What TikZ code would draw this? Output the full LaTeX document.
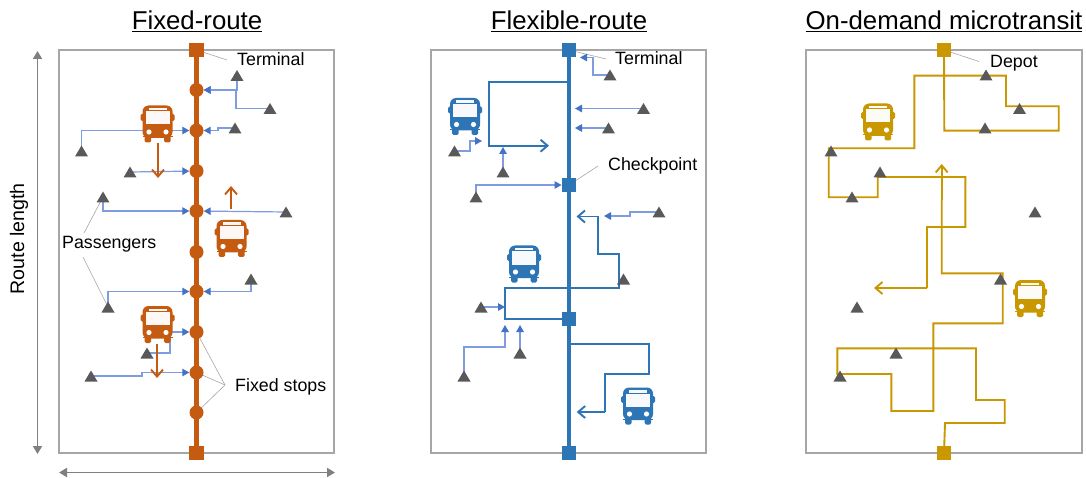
\documentclass[tikz,border=0pt]{standalone}
\usepackage{fontspec}
\setmainfont{Liberation Sans}
\usetikzlibrary{arrows.meta,backgrounds}
\definecolor{corange}{HTML}{C55A11}
\definecolor{cblue}{HTML}{2E75B6}
\definecolor{cgold}{HTML}{C99700}
\definecolor{cpax}{HTML}{7D9DE0}
\definecolor{ctip}{HTML}{4472C4}
\definecolor{ctri}{HTML}{595959}
\definecolor{cframe}{HTML}{A6A6A6}
\definecolor{cgrayarrow}{HTML}{808080}
\tikzset{
  panel/.style={draw=cframe,line width=1.4pt,fill=white},
  tri/.style={rectangle,minimum width=13pt,minimum height=11pt,inner sep=0pt,
    path picture={\fill[ctri] (path picture bounding box.south west) -- (path picture bounding box.south east) -- (path picture bounding box.north) -- cycle;}},
  stopdot/.style={circle,fill=corange,minimum size=14pt,inner sep=0pt},
  sq/.style={rectangle,fill=#1,minimum size=14.5pt,inner sep=0pt},
  paxline/.style={draw=cpax,line width=1.2pt,-{Stealth[length=7pt,width=7.5pt,inset=0pt,color=ctip]}},
  mainroute/.style={draw=#1,line width=4.4pt},
  subroute/.style={draw=#1,line width=1.9pt},
  openarrow/.style={draw=#1,line width=1.9pt,-{Straight Barb[length=7pt,width=12pt]}},
  leader/.style={draw=gray!70,line width=0.6pt},
  dimarrow/.style={draw=cgrayarrow,line width=1.8pt,{Stealth[length=8pt,width=9pt,inset=0pt]}-{Stealth[length=8pt,width=9pt,inset=0pt]}},
  ttl/.style={anchor=base,font=\fontsize{25.8}{28}\selectfont,inner sep=0pt},
  lab/.style={anchor=base west,font=\fontsize{17.8}{20}\selectfont,inner sep=0pt},
  pics/bus/.style={code={
    \fill[#1,rounded corners=6pt] (-15,14) -- (-15,-18.5) -- (15,-18.5) -- (15,14) -- cycle;
    \fill[#1] (-15,12.5) rectangle (15,13.5);
    \fill[#1,rounded corners=1.5pt] (-17,-10) rectangle (17,-3);
    \fill[#1,rounded corners=1.5pt] (-13,9) rectangle (-6.5,18.5);
    \fill[#1,rounded corners=1.5pt] (6.5,9) rectangle (13,18.5);
    \fill[white!96!#1] (-12,-12.5) rectangle (12,0.5);
    \fill[white!96!#1] (-9,-16) rectangle (9,-13.5);
    \fill[white] (-8.5,8) circle (2.6);
    \fill[white] (8.5,8) circle (2.6);
  }}
}
\begin{document}
\begin{tikzpicture}[x=1pt,y=-1pt]
\useasboundingbox (0,0) rectangle (1086,478);
% ---------- titles and labels
\node[ttl] (t1) at (197,30) {\underline{Fixed-route}};
\node[ttl] (t2) at (569,30) {\underline{Flexible-route}};
\node[ttl] (t3) at (944,30) {\underline{On-demand microtransit}};
\node[anchor=base west,rotate=90,inner sep=0pt,font=\fontsize{19.6}{22}\selectfont] (rl) at (24,294.5) {Route length};
\node[lab] (lt1) at (237,65.5) {Terminal};
\node[lab] (lp)  at (62,249) {Passengers};
\node[lab] (lf)  at (235,391) {Fixed stops};
\node[lab] (lt2) at (615,65) {Terminal};
\node[lab] (lc)  at (608,171) {Checkpoint};
\node[lab] (ld)  at (990,67.5) {Depot};
% ---------- panel 1 nodes
\node[sq=corange] (A1) at (196.5,50) {};
\node[sq=corange] (A2) at (196.5,453) {};
\foreach \n/\y in {1/90,2/130.5,3/171,4/211,5/252,6/291.5,7/332,8/372.5,9/412.5}
  \node[stopdot] (s\n) at (196.5,\y) {};
\node[tri] (a1) at (237,75.5) {};
\node[tri] (a2) at (270,108.5) {};
\node[tri] (a3) at (235,128) {};
\node[tri] (a4) at (81.5,151) {};
\node[tri] (a5) at (130,172) {};
\node[tri] (a6) at (103,197) {};
\node[tri] (a7) at (286,212) {};
\node[tri] (a8) at (251,279) {};
\node[tri] (a9) at (108,307) {};
\node[tri] (a10) at (147,353) {};
\node[tri] (a11) at (91,376) {};
% ---------- panel 2 nodes
\node[sq=cblue] (B1) at (569,50) {};
\node[sq=cblue] (B2) at (569,185) {};
\node[sq=cblue] (B3) at (569,319) {};
\node[sq=cblue] (B4) at (569,453) {};
\node[tri] (b1) at (610,75) {};
\node[tri] (b2) at (643.5,108.5) {};
\node[tri] (b3) at (608.5,128) {};
\node[tri] (b4) at (454.5,151) {};
\node[tri] (b5) at (503,172) {};
\node[tri] (b6) at (476,197) {};
\node[tri] (b7) at (659,212) {};
\node[tri] (b8) at (623.5,279) {};
\node[tri] (b9) at (481,307) {};
\node[tri] (b10) at (520,353) {};
\node[tri] (b11) at (464,376) {};
% ---------- panel 3 nodes
\node[sq=cgold] (C1) at (944,50) {};
\node[sq=cgold] (C2) at (944,453) {};
\node[tri] (c1) at (986,75) {};
\node[tri] (c2) at (1019.5,108.5) {};
\node[tri] (c3) at (985,128) {};
\node[tri] (c4) at (831,151) {};
\node[tri] (c5) at (880,172) {};
\node[tri] (c6) at (852,197) {};
\node[tri] (c7) at (1035,212) {};
\node[tri] (c8) at (1000.5,279) {};
\node[tri] (c9) at (857,307) {};
\node[tri] (c10) at (896,353) {};
\node[tri] (c11) at (840,376) {};
% ---------- free ends
\coordinate (ea1) at (227,60);
\coordinate (ea2) at (84,233);
\coordinate (ea3) at (83,257);
\coordinate (ea4) at (225,385);
\coordinate (eb1) at (606,59);
\coordinate (eb2) at (598,166);
\coordinate (ec1) at (979,61.5);
\coordinate (v1) at (37.5,51);
\coordinate (v2) at (37.5,454);
\coordinate (h1) at (59,472.5);
\coordinate (h2) at (335,472.5);
\begin{scope}[on background layer]
\fill[white] (0,0) rectangle (1086,478);
\draw[panel] (59,50) rectangle (334,453);
\draw[panel] (431,50) rectangle (706,453);
\draw[panel] (806,50) rectangle (1082,453);
\draw[dimarrow] (v1) -- (v2);
\draw[dimarrow] (h1) -- (h2);
% leaders
\draw[leader] (A1.center) -- (ea1);
\draw[leader] (ea2) -- (a6.center);
\draw[leader] (ea3) -- (a9.center);
\draw[leader] (s7.center) -- (ea4);
\draw[leader] (s8.center) -- (ea4);
\draw[leader] (s9.center) -- (ea4);
\draw[leader] (B1.center) -- (eb1);
\draw[leader] (B2.center) -- (eb2);
\draw[leader] (C1.center) -- (ec1);
% panel 1 connectors
\draw[paxline] (a1.center) |- (s1);
\draw[paxline] (a2.center) -- (236,108.5) -- (236,90) -- (s1);
\draw[paxline] (a3.center) -- (218,128) -- (218,130.5) -- (s2);
\draw[paxline] (a4.center) |- (s2);
\draw[paxline] (a5.center) -- (s3);
\draw[paxline] (a6.center) |- (s4);
\draw[paxline] (a7.center) -- (s4);
\draw[paxline] (a8.center) |- (s6);
\draw[paxline] (a9.center) |- (s6);
\draw[paxline] (a10.center) -- (170,353) -- (170,332) -- (s7);
\draw[paxline] (a11.center) -- (142,376) -- (142,372.5) -- (s8);
\draw[mainroute=corange] (A1.center) -- (A2.center);
\draw[openarrow=corange] (158,143) -- (158,178);
\draw[openarrow=corange] (231,209) -- (231,186);
\draw[openarrow=corange] (157,344) -- (157,378);
% panel 2 connectors
\draw[paxline] (b1.center) -- (593,75) -- (593,57.5) -- (580,57.5);
\draw[paxline] (b2.center) -- (575,108.5);
\draw[paxline] (b3.center) -- (575,128);
\draw[paxline] (b4.center) -- (470,151) -- (470,141) -- (482,141);
\draw[paxline] (b5.center) -- (503,147);
\draw[paxline] (b6.center) |- (B2);
\draw[paxline] (b7.center) -- (630,212) -- (630,216) -- (604,216);
\draw[paxline] (b9.center) -- (505,307);
\draw[paxline] (b11.center) -- (464,347) -- (505,347) -- (505,325);
\draw[paxline] (b10.center) -- (520,325);
\draw[mainroute=cblue] (B1.center) -- (B4.center);
\draw[subroute=cblue,line join=miter] (569,82) -- (489,82) -- (489,145.7) -- (500,145.7);
\draw[openarrow=cblue] (500,145.7) -- (549,145.7);
\draw[subroute=cblue] (598,216.5) -- (598,254) -- (619,254) -- (619,287.7) -- (505,287.7) -- (505,319) -- (B3.center);
\draw[openarrow=cblue] (598,216.5) -- (576.5,216.5);
\draw[subroute=cblue] (569,343.7) -- (649,343.7) -- (649,373.7) -- (605.3,373.7) -- (605.3,412);
\draw[openarrow=cblue] (605.3,412) -- (576.7,412);
% panel 3 connectors
\draw[subroute=cgold] (C1.center) -- (944.3,130.7) -- (1058.7,130.7) -- (1058.7,106.3) -- (1006,106.3) -- (1006,75.7) -- (914.3,75.7) -- (914.3,148.3) -- (828.7,148.3) -- (828.7,197.3) -- (877.7,197.3) -- (877.7,177) -- (965.3,177) -- (965.3,227) -- (927,227) -- (927,288);
\draw[openarrow=cgold] (927,288) -- (874,288);
\draw[subroute=cgold] (C2.center) -- (945,423) -- (1004.7,423) -- (1004.7,400) -- (976,400) -- (976,348.3) -- (837.3,348.3) -- (837.3,374) -- (891.3,374) -- (891.3,411) -- (933.3,411) -- (933.3,323.3) -- (1002.7,323.3) -- (1002.7,273.3) -- (941.7,273.3) -- (941.7,200);
\draw[openarrow=cgold] (941.7,200) -- (941.7,164);
\end{scope}
% ---------- buses
\pic (bus1) at (157.5,124) {bus=corange};
\pic (bus2) at (231.5,238.5) {bus=corange};
\pic (bus3) at (157.5,324.5) {bus=corange};
\pic (bus4) at (465,116.5) {bus=cblue};
\pic (bus5) at (524,264) {bus=cblue};
\pic (bus6) at (638,406) {bus=cblue};
\pic (bus7) at (878,122) {bus=cgold};
\pic (bus8) at (1030,298.5) {bus=cgold};
\end{tikzpicture}
\end{document}
